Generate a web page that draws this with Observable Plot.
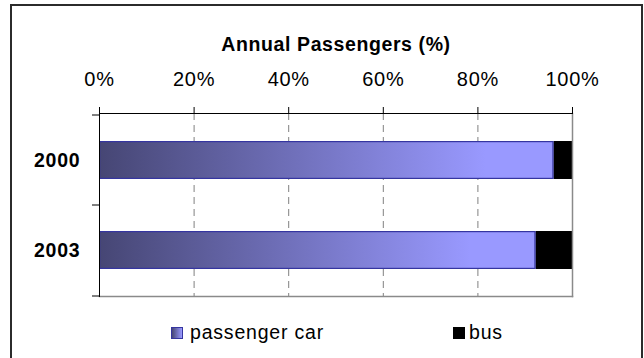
<!DOCTYPE html>
<html>
<head>
<meta charset="utf-8">
<script src="https://cdn.jsdelivr.net/npm/d3@7"></script>
<script src="https://cdn.jsdelivr.net/npm/@observablehq/plot@0.6"></script>
<style>
  body { margin: 0; background: #fff; }
  #wrap { position: relative; width: 644px; height: 358px; overflow: hidden; font-family: "Liberation Sans", Arial, sans-serif; }
  #wrap svg { position: absolute; left: 0; top: 0; }
  #border { position: absolute; left: 10px; top: 4px; width: 629px; height: 400px; border: 2px solid #2b2b2b; pointer-events: none; }
  .leg { position: absolute; font-size: 19.5px; line-height: 20px; letter-spacing: 0.8px; color: #000; white-space: nowrap; }
  .sw { position: absolute; width: 12px; height: 12px; box-sizing: border-box; }
  g[aria-label="x-axis tick label"] text { letter-spacing: 0.7px; }
  g[aria-label="y-axis tick label"] text { letter-spacing: 0.8px; }
  g[aria-label="text"] text { letter-spacing: 0.6px; }
</style>
</head>
<body>
<div id="wrap"><div id="border"></div></div>
<script>
const years = ["2000", "2003"];
const seriesNames = ["passenger car", "bus"];
const carShare = [0.961, 0.923];
const busShare = [0.039, 0.077];
const xTicks = [0, 0.2, 0.4, 0.6, 0.8, 1];
const titleText = "Annual Passengers (%)";
const seriesColors = ["url(#carGrad)", "#000000"];

const data = years.flatMap((y, i) => [
  {year: y, series: seriesNames[0], value: carShare[i]},
  {year: y, series: seriesNames[1], value: busShare[i]}
]);

const svg = Plot.plot({
  width: 644,
  height: 358,
  marginLeft: 99,
  marginRight: 72,
  marginTop: 113,
  marginBottom: 62,
  style: {fontFamily: "'Liberation Sans', Arial, sans-serif", background: "transparent", color: "#000"},
  x: {domain: [0, 1], label: null},
  y: {domain: years, label: null, paddingInner: 0.582, paddingOuter: 0.2965},
  color: {domain: seriesNames, range: seriesColors},
  marks: [
    Plot.gridX(xTicks.slice(1, -1), {stroke: "#808080", strokeOpacity: 1, strokeDasharray: "7,5"}),
    Plot.barX(data, Plot.stackX({x: "value", y: "year", fill: "series", inset: 0})),
    Plot.barX(data, Plot.stackX({x: "value", y: "year", fill: "none", stroke: "#3535a0", strokeWidth: 1.2, inset: 0.6,
      filter: d => d.series === seriesNames[0]})),
    Plot.frame({anchor: "right", stroke: "#8a8a8a", strokeWidth: 1.5}),
    Plot.frame({anchor: "bottom", stroke: "#8a8a8a", strokeWidth: 1.5}),
    Plot.frame({anchor: "top", stroke: "#000"}),
    Plot.frame({anchor: "left", stroke: "#000"}),
    Plot.axisX(xTicks, {anchor: "top", tickSize: 7, tickPadding: 21, tickFormat: d3.format(".0%"), fontSize: 20, label: null}),
    Plot.axisY({tickSize: 0, tickPadding: 19, fontSize: 19.5, fontWeight: "bold", label: null}),
    Plot.axisY(years, {tickSize: 7, tickFormat: () => "", dy: -45.5, label: null}),
    Plot.axisY([years[years.length - 1]], {tickSize: 7, tickFormat: () => "", dy: 45.5, label: null}),
    Plot.text([titleText], {frameAnchor: "top", dy: -76, fontSize: 19.5, fontWeight: "bold"})
  ]
});

const ns = "http://www.w3.org/2000/svg";
const defs = document.createElementNS(ns, "defs");
defs.innerHTML = '<linearGradient id="carGrad" x1="0" x2="1" y1="0" y2="0">' +
  '<stop offset="0" stop-color="#464674"/><stop offset="0.85" stop-color="#9999ff"/><stop offset="1" stop-color="#9999ff"/></linearGradient>';
svg.insertBefore(defs, svg.firstChild);

const wrap = document.getElementById("wrap");
wrap.insertBefore(svg, wrap.firstChild);

// legend
const legendPos = [{sx: 171, tx: 190}, {sx: 453, tx: 469}];
seriesNames.forEach((name, i) => {
  const sw = document.createElement("div");
  sw.className = "sw";
  sw.style.left = legendPos[i].sx + "px";
  sw.style.top = "327px";
  if (i === 0) {
    sw.style.background = "linear-gradient(to right, #464674, #9999ff)";
    sw.style.border = "1px solid #3535a0";
  } else {
    sw.style.background = seriesColors[1];
  }
  wrap.appendChild(sw);
  const t = document.createElement("div");
  t.className = "leg";
  t.style.left = legendPos[i].tx + "px";
  t.style.top = "322px";
  t.textContent = name;
  wrap.appendChild(t);
});
</script>
</body>
</html>
